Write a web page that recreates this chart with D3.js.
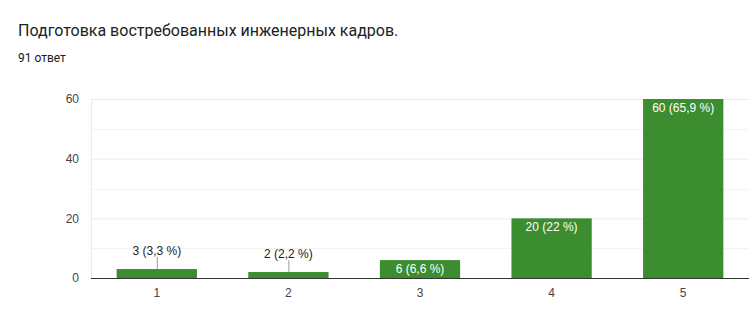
<!doctype html>
<html lang="ru">
<head>
<meta charset="utf-8">
<title>Подготовка востребованных инженерных кадров.</title>
<script src="https://cdn.jsdelivr.net/npm/d3@7"></script>
<style>
  body { margin: 0; background: #fff; }
  svg { display: block; }
  .title { font-family: Roboto, Arial, sans-serif; font-size: 16px; fill: #202124; }
  .sub { font-family: Roboto, Arial, sans-serif; font-size: 12px; fill: #202124; }
  .tick text { font-family: "Liberation Sans", Arial, sans-serif; font-size: 12px; fill: #444; }
  .lbl { font-family: "Liberation Sans", Arial, sans-serif; font-size: 12px; }
</style>
</head>
<body>
<svg width="750" height="318"></svg>
<script>
const categories = ["1", "2", "3", "4", "5"];
const counts = [3, 2, 6, 20, 60];
const labels = ["3 (3,3 %)", "2 (2,2 %)", "6 (6,6 %)", "20 (22 %)", "60 (65,9 %)"];
const yTicks = [0, 20, 40, 60];
const minorTicks = [10, 30, 50];

const data = categories.map((c, i) => ({ cat: c, n: counts[i], label: labels[i] }));

const svg = d3.select("svg");
const margin = { left: 91, right: 1, top: 99, bottom: 40 };
const W = 750, H = 318;

svg.append("text").attr("class", "title").attr("x", 18).attr("y", 36)
  .text("Подготовка востребованных инженерных кадров.");
svg.append("text").attr("class", "sub").attr("x", 18).attr("y", 62).text("91 ответ");

const x = d3.scaleBand().domain(categories)
  .range([margin.left, W - margin.right]).paddingInner(0.39).paddingOuter(0.195);
const y = d3.scaleLinear().domain([0, 60]).range([H - margin.bottom, margin.top]);

// minor grid
svg.append("g").selectAll("line").data(minorTicks).enter().append("line")
  .attr("x1", margin.left).attr("x2", W - margin.right)
  .attr("y1", d => Math.round(y(d)) + 0.5).attr("y2", d => Math.round(y(d)) + 0.5)
  .attr("stroke", "#f3f3f3");

// major grid + y labels
const yAxis = svg.append("g").attr("transform", `translate(${margin.left},0)`)
  .call(d3.axisLeft(y).tickValues(yTicks).tickSize(-(W - margin.left - margin.right)).tickPadding(12));
yAxis.select(".domain").remove();
yAxis.selectAll(".tick line").attr("stroke", "#ebebeb");

// left vertical grid edge
svg.append("line").attr("x1", margin.left + 0.5).attr("x2", margin.left + 0.5)
  .attr("y1", y(60)).attr("y2", y(0)).attr("stroke", "#ebebeb");

// bars
svg.append("g").selectAll("rect").data(data).enter().append("rect")
  .attr("x", d => x(d.cat)).attr("width", x.bandwidth())
  .attr("y", d => y(d.n)).attr("height", d => y(0) - y(d.n))
  .attr("fill", "#3c8d2f");

// x axis
const xAxis = svg.append("g").attr("transform", `translate(0,${y(0)})`)
  .call(d3.axisBottom(x).tickSize(0).tickPadding(10));
xAxis.select(".domain").remove();
svg.append("line").attr("x1", margin.left).attr("x2", W - margin.right)
  .attr("y1", y(0) + 0.5).attr("y2", y(0) + 0.5).attr("stroke", "#333");

// value labels
const inside = d => (y(0) - y(d.n)) >= 16;
const lg = svg.append("g");
data.forEach(d => {
  const cx = x(d.cat) + x.bandwidth() / 2;
  if (inside(d)) {
    lg.append("text").attr("class", "lbl").attr("x", cx).attr("y", y(d.n) + 13)
      .attr("text-anchor", "middle").attr("fill", "#fff").text(d.label);
  } else {
    lg.append("line").attr("x1", cx + 0.5).attr("x2", cx + 0.5)
      .attr("y1", y(d.n)).attr("y2", y(d.n) - 12).attr("stroke", "#999");
    lg.append("text").attr("class", "lbl").attr("x", cx).attr("y", y(d.n) - 14)
      .attr("text-anchor", "middle").attr("fill", "#222").text(d.label);
  }
});
</script>
</body>
</html>
